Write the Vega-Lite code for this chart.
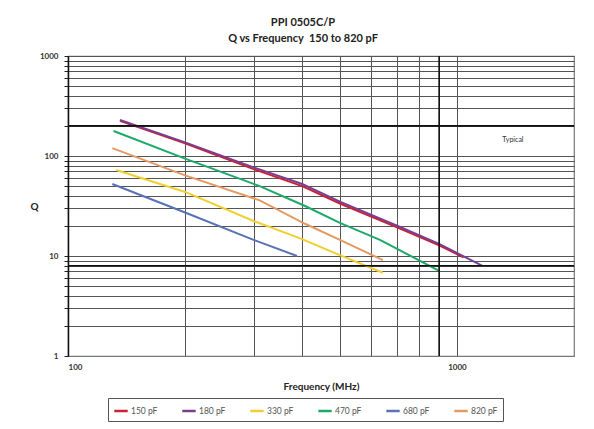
{
  "$schema": "https://vega.github.io/schema/vega-lite/v6.json",
  "width": 506,
  "height": 300,
  "autosize": {"type": "none"},
  "padding": {"left": 68, "top": 56, "right": 20, "bottom": 73},
  "background": "white",
  "config": {
    "font": "Lato",
    "view": {"stroke": "#777", "strokeWidth": 1.2}
  },
  "title": {
    "text": ["PPI 0505C/P", "Q vs Frequency \u00a0150 to 820 pF"],
    "fontSize": 11,
    "fontWeight": "bold",
    "font": "Lato",
    "color": "#222",
    "anchor": "middle",
    "dx": -18,
    "offset": 8,
    "lineHeight": 16
  },
  "datasets": {
    "series": [
      {"cap": "150 pF", "f": 136, "q": 225},
      {"cap": "150 pF", "f": 200, "q": 134},
      {"cap": "150 pF", "f": 300, "q": 74},
      {"cap": "150 pF", "f": 400, "q": 50},
      {"cap": "150 pF", "f": 500, "q": 33.5},
      {"cap": "150 pF", "f": 714, "q": 18.8},
      {"cap": "150 pF", "f": 900, "q": 12.8},
      {"cap": "150 pF", "f": 1040, "q": 9.7},
      {"cap": "180 pF", "f": 136, "q": 229},
      {"cap": "180 pF", "f": 200, "q": 137},
      {"cap": "180 pF", "f": 300, "q": 77},
      {"cap": "180 pF", "f": 400, "q": 52.5},
      {"cap": "180 pF", "f": 500, "q": 35},
      {"cap": "180 pF", "f": 714, "q": 19.5},
      {"cap": "180 pF", "f": 900, "q": 13.2},
      {"cap": "180 pF", "f": 1160, "q": 8.0},
      {"cap": "330 pF", "f": 133, "q": 72.4},
      {"cap": "330 pF", "f": 200, "q": 43.7},
      {"cap": "330 pF", "f": 300, "q": 22.4},
      {"cap": "330 pF", "f": 394, "q": 15.1},
      {"cap": "330 pF", "f": 500, "q": 10.2},
      {"cap": "330 pF", "f": 645, "q": 6.8},
      {"cap": "470 pF", "f": 131, "q": 178},
      {"cap": "470 pF", "f": 200, "q": 94},
      {"cap": "470 pF", "f": 311, "q": 50},
      {"cap": "470 pF", "f": 407, "q": 31.6},
      {"cap": "470 pF", "f": 500, "q": 21.4},
      {"cap": "470 pF", "f": 634, "q": 14.5},
      {"cap": "470 pF", "f": 900, "q": 7.1},
      {"cap": "680 pF", "f": 130, "q": 52.5},
      {"cap": "680 pF", "f": 200, "q": 27.2},
      {"cap": "680 pF", "f": 300, "q": 14.5},
      {"cap": "680 pF", "f": 388, "q": 10},
      {"cap": "820 pF", "f": 130, "q": 120},
      {"cap": "820 pF", "f": 200, "q": 64},
      {"cap": "820 pF", "f": 311, "q": 36},
      {"cap": "820 pF", "f": 407, "q": 21},
      {"cap": "820 pF", "f": 500, "q": 14.5},
      {"cap": "820 pF", "f": 606, "q": 10.2},
      {"cap": "820 pF", "f": 645, "q": 9.1}
    ],
    "hrefs": [{"q": 200}, {"q": 8}],
    "vrefs": [{"f": 900}],
    "notes": [{"f": 1393, "q": 145, "label": "Typical"}]
  },
  "layer": [
    {
      "data": {"name": "series"},
      "mark": {"type": "line", "strokeWidth": 2},
      "encoding": {
        "x": {
          "field": "f", "type": "quantitative",
          "scale": {"type": "log", "domain": [100, 2000], "nice": false},
          "axis": {
            "title": "Frequency (MHz)",
            "values": [100, 200, 300, 400, 500, 600, 700, 800, 900, 1000],
            "labelExpr": "datum.value == 100 || datum.value == 1000 ? datum.label : ''",
            "format": "d",
            "grid": true, "gridColor": "#555", "gridWidth": 1,
            "ticks": false,
            "domainColor": "#777",
            "labelFont": "Lato", "labelFontSize": 8, "labelFontWeight": "bold", "labelColor": "#333",
            "labelPadding": 7,
            "titleFont": "Lato", "titleFontSize": 10, "titleFontWeight": "bold", "titleColor": "#222",
            "titlePadding": 10
          }
        },
        "y": {
          "field": "q", "type": "quantitative",
          "scale": {"type": "log", "domain": [1, 1000], "nice": false},
          "axis": {
            "title": "Q",
            "values": [1, 2, 3, 4, 5, 6, 7, 8, 9, 10, 20, 30, 40, 50, 60, 70, 80, 90, 100, 200, 300, 400, 500, 600, 700, 800, 900, 1000],
            "labelExpr": "datum.value == 1 || datum.value == 10 || datum.value == 100 || datum.value == 1000 ? datum.label : ''",
            "format": "d",
            "grid": true, "gridColor": "#555", "gridWidth": 1,
            "tickSize": 4, "tickColor": "#222",
            "domainColor": "#111", "domainWidth": 1.5,
            "labelFont": "Lato", "labelFontSize": 8, "labelFontWeight": "bold", "labelColor": "#333",
            "labelPadding": 6,
            "titleFont": "Lato", "titleFontSize": 10, "titleFontWeight": "bold", "titleColor": "#222",
            "titleAngle": 0, "titleX": -34, "titleY": 150, "titleAlign": "center", "titleBaseline": "middle"
          }
        },
        "color": {
          "field": "cap", "type": "nominal",
          "scale": {
            "domain": ["150 pF", "180 pF", "330 pF", "470 pF", "680 pF", "820 pF"],
            "range": ["#CC2035", "#7A3E8E", "#F0D030", "#1BAA6A", "#5872B4", "#E39A64"]
          },
          "legend": {
            "title": null,
            "orient": "none",
            "direction": "horizontal",
            "columns": 6,
            "legendX": 40,
            "legendY": 342,
            "strokeColor": "#555",
            "padding": 5,
            "symbolType": "stroke",
            "symbolStrokeWidth": 2.5,
            "symbolSize": 180,
            "labelFont": "Lato",
            "labelFontSize": 8.5,
            "labelColor": "#555",
            "labelOffset": 2,
            "columnPadding": 19
          }
        }
      }
    },
    {
      "data": {"name": "hrefs"},
      "mark": {"type": "rule", "color": "#111", "strokeWidth": 1.6},
      "encoding": {"y": {"field": "q", "type": "quantitative", "title": "Q"}}
    },
    {
      "data": {"name": "vrefs"},
      "mark": {"type": "rule", "color": "#111", "strokeWidth": 1.6},
      "encoding": {"x": {"field": "f", "type": "quantitative", "title": "Frequency (MHz)"}}
    },
    {
      "data": {"name": "notes"},
      "mark": {"type": "text", "fontSize": 7, "color": "#333", "font": "Lato"},
      "encoding": {
        "x": {"field": "f", "type": "quantitative", "title": "Frequency (MHz)"},
        "y": {"field": "q", "type": "quantitative", "title": "Q"},
        "text": {"field": "label"}
      }
    }
  ]
}
